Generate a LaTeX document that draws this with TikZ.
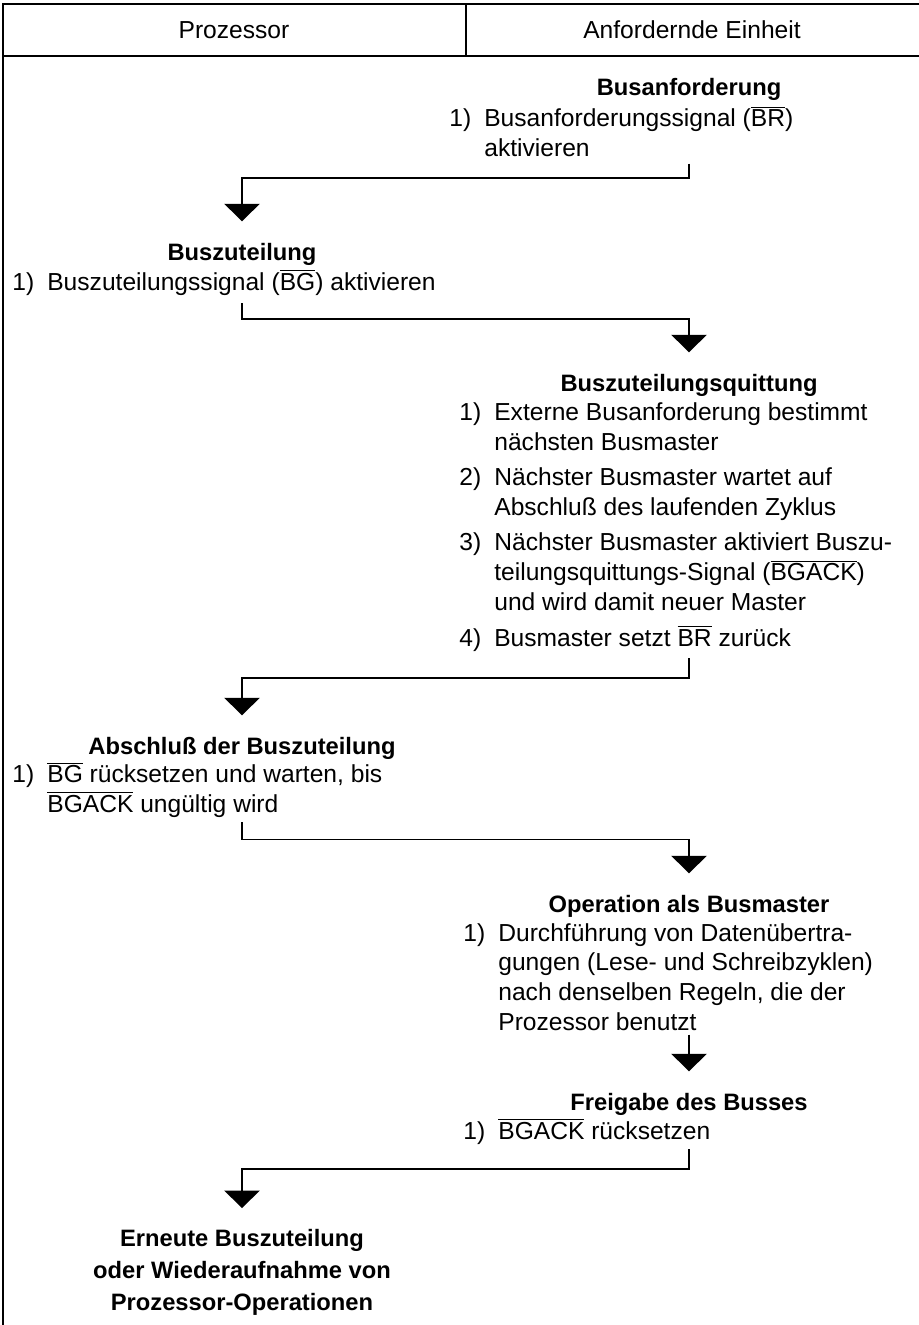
\documentclass[tikz,border=0pt]{standalone}
\usepackage{fontspec}
\setmainfont{Liberation Sans}
\usetikzlibrary{arrows.meta}

\newcommand{\quer}[1]{$\overline{\mbox{#1}}$}
\newcommand{\punkt}[1]{\llap{\makebox[0.7cm][l]{#1}}}

\begin{document}
\begin{tikzpicture}[x=0.02cm, y=-0.02cm,
  rahmen/.style={line width=1.1pt},
  kopf/.style={anchor=base, inner sep=0pt, font=\fontsize{14}{16.8}\selectfont},
  titel/.style={anchor=base, inner sep=0pt, align=center, font=\bfseries\fontsize{13.5}{18}\selectfont},
  eintrag/.style={anchor=base west, inner sep=0pt, align=left, font=\fontsize{14}{16.8}\selectfont},
  fluss/.style={line width=1.1pt, -{Triangle[width=20pt,length=10pt]}, shorten >=12pt}]
  \useasboundingbox (0,0) rectangle (919,1325);

  % Spalten
  \coordinate (kl) at (242,0);
  \coordinate (kr) at (689,0);

  % Kopfzeile und Rand
  \draw[rahmen] (919,4) -- (3,4) -- (3,1325);
  \draw[rahmen] (3,56) -- (919,56);
  \draw[rahmen] (466,4) -- (466,56);
  \node[kopf] (proz) at (234,38) {Prozessor};
  \node[kopf] (einh) at (692,38) {Anfordernde Einheit};

  % Busanforderung (mehrzeilige Knoten sitzen auf der letzten Grundlinie)
  \node[titel] (anf) at (689,95) {Busanforderung};
  \node[eintrag] (anf1) at (484,156) {\punkt{1)}Busanforderungssignal (\quer{BR})\\aktivieren};

  % Buszuteilung
  \node[titel] (zut) at (242,260) {Buszuteilung};
  \node[eintrag] (zut1) at (47,290) {\punkt{1)}Buszuteilungssignal (\quer{BG}) aktivieren};

  % Buszuteilungsquittung
  \node[titel] (qu) at (689,391) {Buszuteilungsquittung};
  \node[eintrag] (qu1) at (494,450) {\punkt{1)}Externe Busanforderung bestimmt\\n\"achsten Busmaster};
  \node[eintrag] (qu2) at (494,515) {\punkt{2)}N\"achster Busmaster wartet auf\\Abschlu\ss{} des laufenden Zyklus};
  \node[eintrag] (qu3) at (494,610) {\punkt{3)}N\"achster Busmaster aktiviert Buszu-\\teilungsquittungs-Signal (\quer{BGACK})\\und wird damit neuer Master};
  \node[eintrag] (qu4) at (494,646) {\punkt{4)}Busmaster setzt \quer{BR} zur\"uck};

  % Abschluss der Buszuteilung
  \node[titel] (abs) at (242,754) {Abschlu\ss{} der Buszuteilung};
  \node[eintrag] (abs1) at (47,812) {\punkt{1)}\quer{BG} r\"ucksetzen und warten, bis\\\quer{BGACK} ung\"ultig wird};

  % Operation als Busmaster
  \node[titel] (op) at (689,912) {Operation als Busmaster};
  \node[eintrag] (op1) at (498,1030) {\punkt{1)}Durchf\"uhrung von Daten\"ubertra-\\gungen (Lese- und Schreibzyklen)\\nach denselben Regeln, die der\\Prozessor benutzt};

  % Freigabe des Busses
  \node[titel] (frei) at (689,1110) {Freigabe des Busses};
  \node[eintrag] (frei1) at (498,1139) {\punkt{1)}\quer{BGACK} r\"ucksetzen};

  % Erneute Buszuteilung
  \node[titel] (neu) at (242,1310) {Erneute Buszuteilung\\oder Wiederaufnahme von\\Prozessor-Operationen};

  % Ablauf
  \draw[fluss] (anf1.south -| kr) ++(0,7) -- ++(0,14) -| (zut.north -| kl);
  \draw[fluss] (zut1.south -| kl) ++(0,8) -- ++(0,16) -| (qu.north -| kr);
  \draw[fluss] (qu4.south -| kr) ++(0,7) -- ++(0,20) -| (abs.north -| kl);
  \draw[fluss] (abs1.south -| kl) ++(0,5) -- ++(0,17) -| (op.north -| kr);
  \draw[fluss] (op1.south -| kr) ++(0,4) -- (frei.north -| kr);
  \draw[fluss] (frei1.south -| kr) ++(0,5) -- ++(0,20) -| (neu.north -| kl);
\end{tikzpicture}
\end{document}
